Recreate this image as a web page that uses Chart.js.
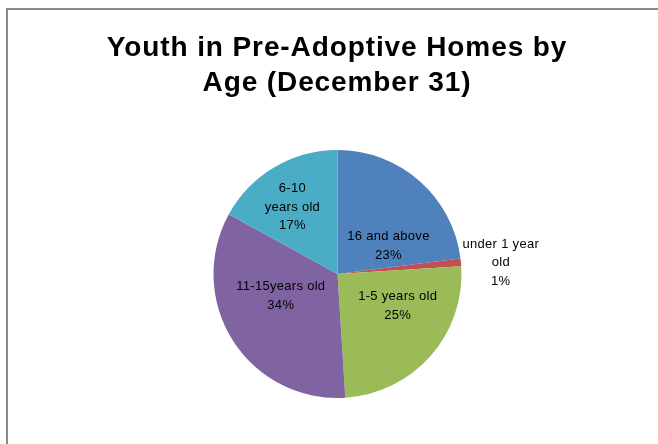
<!DOCTYPE html>
<html lang="en">
<head>
    <meta charset="UTF-8">
    <title>Youth in Pre-Adoptive Homes by Age</title>
    <script src="https://cdn.jsdelivr.net/npm/chart.js"></script>
    <style>
        body {
            margin: 0;
            background: #ffffff;
        }
        #chartContainer {
            position: relative;
            width: 658px;
            height: 444px;
        }
        #frame {
            position: absolute;
            left: 6px;
            top: 8px;
            width: 660px;
            height: 450px;
            border-left: 2px solid #8a8a8a;
            border-top: 2px solid #8a8a8a;
        }
    </style>
</head>
<body>

<div id="chartContainer">
    <div id="frame"></div>
    <canvas id="myChart" width="658" height="444"></canvas>
</div>

<script>
    // Chart data
    const titleLines = ['Youth in Pre-Adoptive Homes by', 'Age (December 31)'];
    const categories = ['16 and above', 'under 1 year old', '1-5 years old', '11-15 years old', '6-10 years old'];
    const percentages = [23, 1, 25, 34, 17];
    const labelLines = [
        ['16 and above', '23%'],
        ['under 1 year', 'old', '1%'],
        ['1-5 years old', '25%'],
        ['11-15years old', '34%'],
        ['6-10', 'years old', '17%']
    ];
    const sliceColors = ['#4F81BD', '#C0504D', '#9BBB59', '#8064A2', '#4BACC6'];

    // where each label sits: angle from 12 o'clock (deg) and distance as fraction of radius
    const labelPlacement = [[61, 0.47], [86, 1.32], [118, 0.55], [249, 0.49], [326, 0.65]];

    // Plugin to draw the title and data labels like the original
    const textPlugin = {
        id: 'textPlugin',
        afterDraw(chart) {
            const ctx = chart.ctx;
            ctx.save();
            ctx.fillStyle = '#000000';
            ctx.textAlign = 'center';
            ctx.textBaseline = 'middle';

            // title
            ctx.font = 'bold 28px "Liberation Sans", Arial, sans-serif';
            ctx.letterSpacing = '0.9px';
            titleLines.forEach((line, i) => {
                ctx.fillText(line, 337, 48 + i * 35);
            });

            // slice labels
            const arc = chart.getDatasetMeta(0).data[0];
            const cx = arc.x, cy = arc.y, r = arc.outerRadius;
            ctx.font = '13px "Liberation Sans", Arial, sans-serif';
            ctx.letterSpacing = '0.3px';
            labelLines.forEach((lines, i) => {
                const a = labelPlacement[i][0] * Math.PI / 180;
                const d = labelPlacement[i][1] * r;
                const x = cx + Math.sin(a) * d;
                const y = cy - Math.cos(a) * d;
                const lh = 18.5;
                const top = y - (lines.length - 1) * lh / 2;
                lines.forEach((t, j) => ctx.fillText(t, x, top + j * lh));
            });
            ctx.restore();
        }
    };

    new Chart(document.getElementById('myChart').getContext('2d'), {
        type: 'pie',
        data: {
            labels: categories,
            datasets: [{
                data: percentages,
                backgroundColor: sliceColors,
                borderWidth: 0
            }]
        },
        options: {
            responsive: false,
            animation: false,
            layout: {
                padding: { left: 213, right: 196, top: 150, bottom: 46 }
            },
            plugins: {
                legend: { display: false },
                title: { display: false },
                tooltip: { enabled: false }
            }
        },
        plugins: [textPlugin]
    });
</script>

</body>
</html>
